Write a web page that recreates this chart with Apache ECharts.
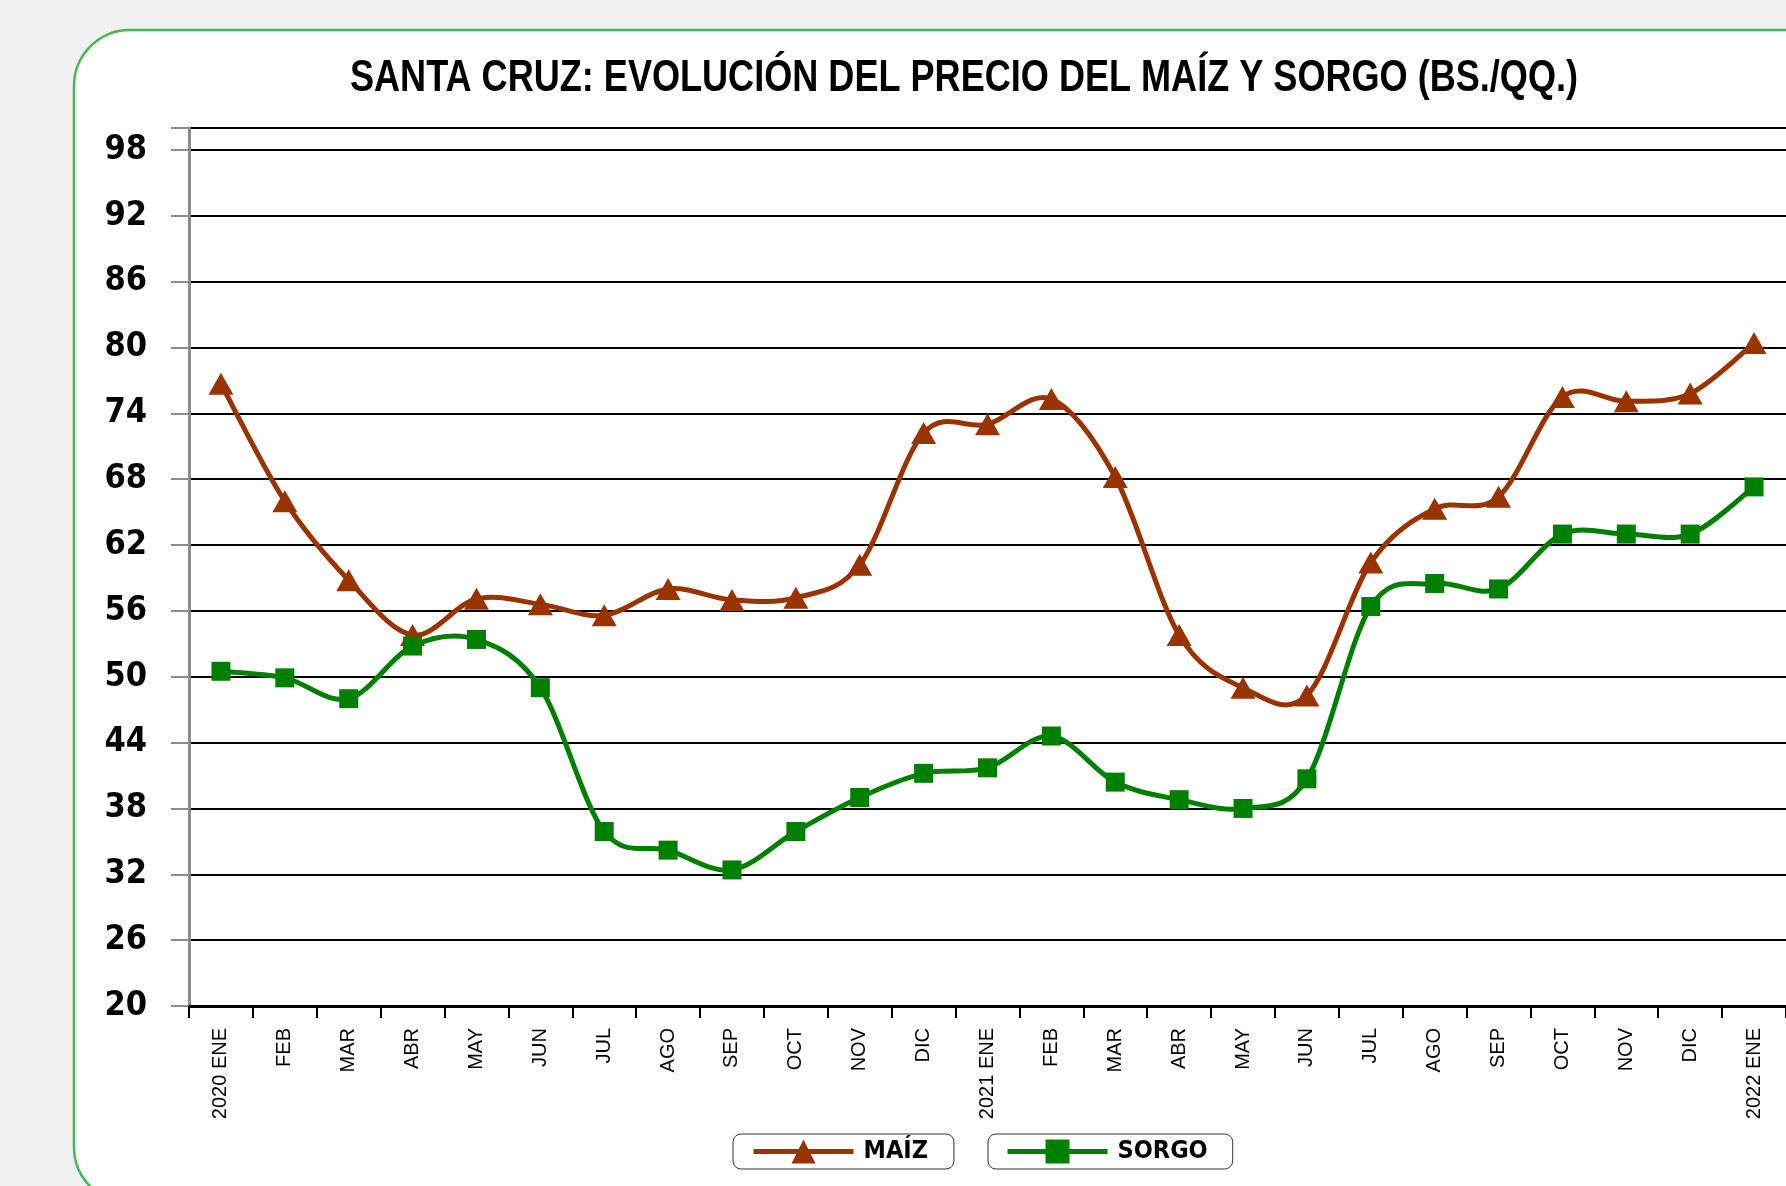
<!DOCTYPE html>
<html>
<head>
<meta charset="utf-8">
<script src="https://cdn.jsdelivr.net/npm/echarts@6/dist/echarts.min.js"></script>
<style>
html,body{margin:0;padding:0;background:#f0f0f0;}
#chart{width:1786px;height:1186px;}
</style>
</head>
<body>
<div id="chart"></div>
<script>
var months = ['2020 ENE','FEB','MAR','ABR','MAY','JUN','JUL','AGO','SEP','OCT','NOV','DIC',
              '2021 ENE','FEB','MAR','ABR','MAY','JUN','JUL','AGO','SEP','OCT','NOV','DIC','2022 ENE'];
var maiz  = [76.7,66.0,58.8,53.8,57.1,56.6,55.6,58.0,57.0,57.2,60.2,72.2,
             73.0,75.3,68.2,53.8,49.0,48.3,60.4,65.3,66.4,75.5,75.1,75.8,80.4];
var sorgo = [50.5,49.9,48.0,52.8,53.4,49.0,35.9,34.2,32.4,35.9,39.0,41.2,
             41.7,44.6,40.4,38.8,38.0,40.7,56.4,58.5,58.0,63.0,63.0,63.0,67.3];
var yMin = 20, yMax = 100, yStep = 6;
var titleText = 'SANTA CRUZ: EVOLUCIÓN DEL PRECIO DEL MAÍZ Y SORGO (BS./QQ.)';

var COND = '"DejaVu Sans Condensed","Liberation Sans",sans-serif';
var ARIAL = '"Liberation Sans",Arial,sans-serif';

// Excel-like smoothed segment (Catmull-Rom style bezier, allows overshoot)
function smoothSegment(values, color) {
  return function (params, api) {
    var i = params.dataIndex, n = values.length;
    if (i >= n - 1) return null;
    function P(k) { k = Math.max(0, Math.min(n - 1, k)); return api.coord([k, values[k]]); }
    var p0 = P(i - 1), p1 = P(i), p2 = P(i + 1), p3 = P(i + 2);
    var t = 1 / 6;
    return {
      type: 'bezierCurve',
      shape: {
        x1: p1[0], y1: p1[1],
        cpx1: p1[0] + (p2[0] - p0[0]) * t, cpy1: p1[1] + (p2[1] - p0[1]) * t,
        cpx2: p2[0] - (p3[0] - p1[0]) * t, cpy2: p2[1] - (p3[1] - p1[1]) * t,
        x2: p2[0], y2: p2[1]
      },
      style: {stroke: color, lineWidth: 5, fill: null, lineCap: 'round'}
    };
  };
}
function pairs(values) { return values.map(function (v, i) { return [i, v]; }); }

var chart = echarts.init(document.getElementById('chart'), null, {renderer:'canvas'});
chart.setOption({
  backgroundColor: 'transparent',
  animation: false,
  graphic: [{
    type: 'rect', z: -10, silent: true,
    shape: {x: 74, y: 30, width: 1800, height: 1173, r: 56},
    style: {fill: '#ffffff', stroke: '#45b852', lineWidth: 2.5}
  }, {
    type: 'text', z: 10, silent: true,
    x: 964, y: 79, scaleX: 0.82,
    style: {text: titleText, fontFamily: ARIAL, fontWeight: 'bold', fontSize: 44,
            fill: '#000', align: 'center', verticalAlign: 'middle'}
  }],
  grid: {left: 189, top: 128, width: 1615, height: 878, containLabel: false},
  xAxis: {
    type: 'category', data: months, boundaryGap: true,
    axisLine: {lineStyle: {color: '#000', width: 3}},
    axisTick: {show: true, interval: 0, length: 12, lineStyle: {color: '#000', width: 2}},
    axisLabel: {interval: 0, rotate: 90, margin: 22, fontFamily: ARIAL, fontSize: 20, color: '#000'},
    splitLine: {show: false}
  },
  yAxis: {
    type: 'value', min: yMin, max: yMax, interval: yStep,
    axisLine: {show: true, lineStyle: {color: '#8c8c8c', width: 3}},
    axisTick: {show: true, length: 18, lineStyle: {color: '#8c8c8c', width: 2}},
    axisLabel: {margin: 42, fontFamily: COND, fontWeight: 'bold', fontSize: 34, color: '#000',
      formatter: function(v){ return v === yMax ? '' : String(v); }},
    splitLine: {show: true, lineStyle: {color: '#000', width: 2}}
  },
  legend: [{
    data: ['MAÍZ'], left: 733, top: 1134, orient: 'horizontal',
    padding: [5, 26, 5, 18], borderColor: '#333', borderWidth: 1, borderRadius: 8,
    backgroundColor: '#fff',
    itemWidth: 100, itemHeight: 30,
    lineStyle: {width: 5, opacity: 1},
    textStyle: {fontFamily: COND, fontWeight: 'bold', fontSize: 25, color: '#000', padding: [0,0,0,5]}
  }, {
    data: ['SORGO'], left: 988, top: 1134, orient: 'horizontal',
    padding: [5, 25, 5, 17], borderColor: '#333', borderWidth: 1, borderRadius: 8,
    backgroundColor: '#fff',
    itemWidth: 100, itemHeight: 30,
    lineStyle: {width: 5, opacity: 1},
    textStyle: {fontFamily: COND, fontWeight: 'bold', fontSize: 25, color: '#000', padding: [0,0,0,5]}
  }],
  series: [{
    name: 'maizCurve', type: 'custom', data: pairs(maiz), z: 2, silent: true,
    renderItem: smoothSegment(maiz, '#993300')
  }, {
    name: 'MAÍZ', type: 'line', data: maiz,
    symbol: 'triangle', symbolSize: [25, 22], z: 3,
    lineStyle: {color: '#993300', width: 5, opacity: 0},
    itemStyle: {color: '#993300'}
  }, {
    name: 'sorgoCurve', type: 'custom', data: pairs(sorgo), z: 4, silent: true,
    renderItem: smoothSegment(sorgo, '#008000')
  }, {
    name: 'SORGO', type: 'line', data: sorgo,
    symbol: 'rect', symbolSize: 19, z: 5,
    lineStyle: {color: '#008000', width: 5, opacity: 0},
    itemStyle: {color: '#008000'}
  }]
});
</script>
</body>
</html>
